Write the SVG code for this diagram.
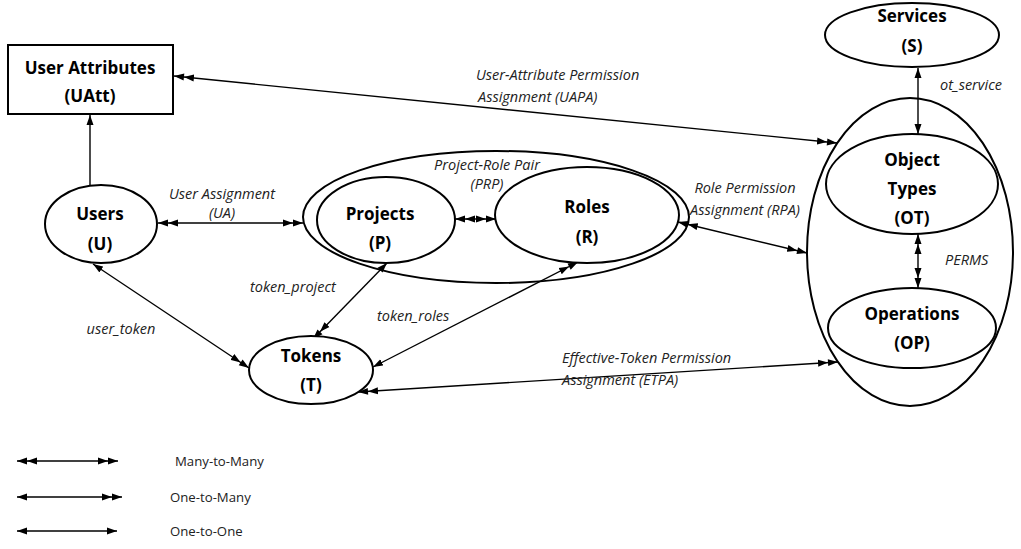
<svg xmlns="http://www.w3.org/2000/svg" width="1021" height="549" viewBox="0 0 1021 549">
<defs>
<style>
.node{fill:#fff;stroke:#000;stroke-width:2}
.nl{font-family:"Open Sans","Liberation Sans",sans-serif;font-weight:bold;font-size:17px;text-anchor:middle;fill:#000}
.el{font-family:"Open Sans","Liberation Sans",sans-serif;font-style:italic;font-size:14.5px;fill:#222}
.lg{font-family:"Open Sans","Liberation Sans",sans-serif;font-size:13.2px;fill:#222}
.c{stroke:#000;stroke-width:1.4;fill:none}
.m2m{marker-start:url(#dbl);marker-end:url(#dbl)}
.o2o{marker-start:url(#sgl);marker-end:url(#sgl)}
.o2m{marker-start:url(#sgl);marker-end:url(#dbl)}
</style>
<marker id="sgl" markerUnits="userSpaceOnUse" markerWidth="11" markerHeight="8" refX="10" refY="4" orient="auto-start-reverse">
<path d="M0,0.5 L10,4 L0,7.5 z" fill="#000"/>
</marker>
<marker id="dbl" markerUnits="userSpaceOnUse" markerWidth="21" markerHeight="8" refX="20" refY="4" orient="auto-start-reverse">
<path d="M0,0.5 L10,4 L0,7.5 z M10,0.5 L20,4 L10,7.5 z" fill="#000"/>
</marker>
</defs>
<rect width="1021" height="549" fill="#fff"/>

<g id="connectors">
<line class="c m2m" x1="174" y1="76" x2="837" y2="143"/>
<line class="c m2m" x1="158" y1="223" x2="303" y2="223"/>
<line class="c m2m" x1="455" y1="219" x2="496" y2="219"/>
<line class="c m2m" x1="678" y1="222" x2="807" y2="253"/>
<line class="c o2o" x1="918" y1="68" x2="918" y2="134"/>
<line class="c m2m" x1="918" y1="234" x2="918" y2="288"/>
<line class="c o2m" x1="93" y1="264" x2="249" y2="368"/>
<line class="c o2m" x1="387" y1="263" x2="313" y2="339"/>
<line class="c o2m" x1="373" y1="367" x2="578" y2="262"/>
<line class="c m2m" x1="358" y1="392" x2="838" y2="362"/>
<line class="c" x1="90" y1="185" x2="90" y2="115" marker-end="url(#sgl)"/>
</g>

<g id="edge-labels">
<text class="el" x="476" y="80">User-Attribute Permission</text>
<text class="el" x="478" y="102">Assignment (UAPA)</text>
<text class="el" x="222" y="199" text-anchor="middle">User Assignment</text>
<text class="el" x="222" y="218" text-anchor="middle">(UA)</text>
<text class="el" x="487" y="170" text-anchor="middle">Project-Role Pair</text>
<text class="el" x="487" y="189" text-anchor="middle">(PRP)</text>
<text class="el" x="745" y="193" text-anchor="middle">Role Permission</text>
<text class="el" x="745" y="215" text-anchor="middle">Assignment (RPA)</text>
<text class="el" x="940" y="90">ot_service</text>
<text class="el" x="945" y="265">PERMS</text>
<text class="el" x="121" y="334" text-anchor="middle">user_token</text>
<text class="el" x="250" y="292">token_project</text>
<text class="el" x="377" y="321">token_roles</text>
<text class="el" x="562" y="363">Effective-Token Permission</text>
<text class="el" x="562" y="385">Assignment (ETPA)</text>
</g>

<g id="node-uatt">
<rect class="node" x="8" y="45" width="165" height="69"/>
<text class="nl" x="90" y="74">User Attributes</text>
<text class="nl" x="90" y="102">(UAtt)</text>
</g>
<g id="node-users">
<ellipse class="node" cx="101" cy="224" rx="56" ry="39"/>
<text class="nl" x="100" y="220">Users</text>
<text class="nl" x="100" y="250">(U)</text>
</g>
<g id="node-prp">
<ellipse class="node" cx="496" cy="217" rx="193" ry="66" style="fill:none"/>
</g>
<g id="node-projects">
<ellipse class="node" cx="386" cy="220" rx="69" ry="43"/>
<text class="nl" x="380" y="220">Projects</text>
<text class="nl" x="380" y="249">(P)</text>
</g>
<g id="node-roles">
<ellipse class="node" cx="587" cy="215" rx="92" ry="48"/>
<text class="nl" x="587" y="213">Roles</text>
<text class="nl" x="587" y="243">(R)</text>
</g>
<g id="node-tokens">
<ellipse class="node" cx="311" cy="370" rx="62" ry="34"/>
<text class="nl" x="311" y="362">Tokens</text>
<text class="nl" x="311" y="391">(T)</text>
</g>
<g id="node-services">
<ellipse class="node" cx="912" cy="35" rx="87" ry="32"/>
<text class="nl" x="912" y="22">Services</text>
<text class="nl" x="912" y="52">(S)</text>
</g>
<g id="node-objects">
<ellipse class="node" cx="910" cy="252" rx="103" ry="154" style="fill:none"/>
</g>
<g id="node-ot">
<ellipse class="node" cx="912" cy="184" rx="86" ry="50"/>
<text class="nl" x="912" y="166">Object</text>
<text class="nl" x="912" y="195">Types</text>
<text class="nl" x="912" y="224">(OT)</text>
</g>
<g id="node-op">
<ellipse class="node" cx="912" cy="328" rx="84" ry="40"/>
<text class="nl" x="912" y="320">Operations</text>
<text class="nl" x="912" y="349">(OP)</text>
</g>

<g id="legend">
<line class="c m2m" x1="17" y1="461" x2="118" y2="461"/>
<line class="c o2m" x1="17" y1="497" x2="122" y2="497"/>
<line class="c o2o" x1="17" y1="531" x2="117" y2="531"/>
<text class="lg" x="175" y="466">Many-to-Many</text>
<text class="lg" x="170" y="502">One-to-Many</text>
<text class="lg" x="170" y="536">One-to-One</text>
</g>
</svg>
